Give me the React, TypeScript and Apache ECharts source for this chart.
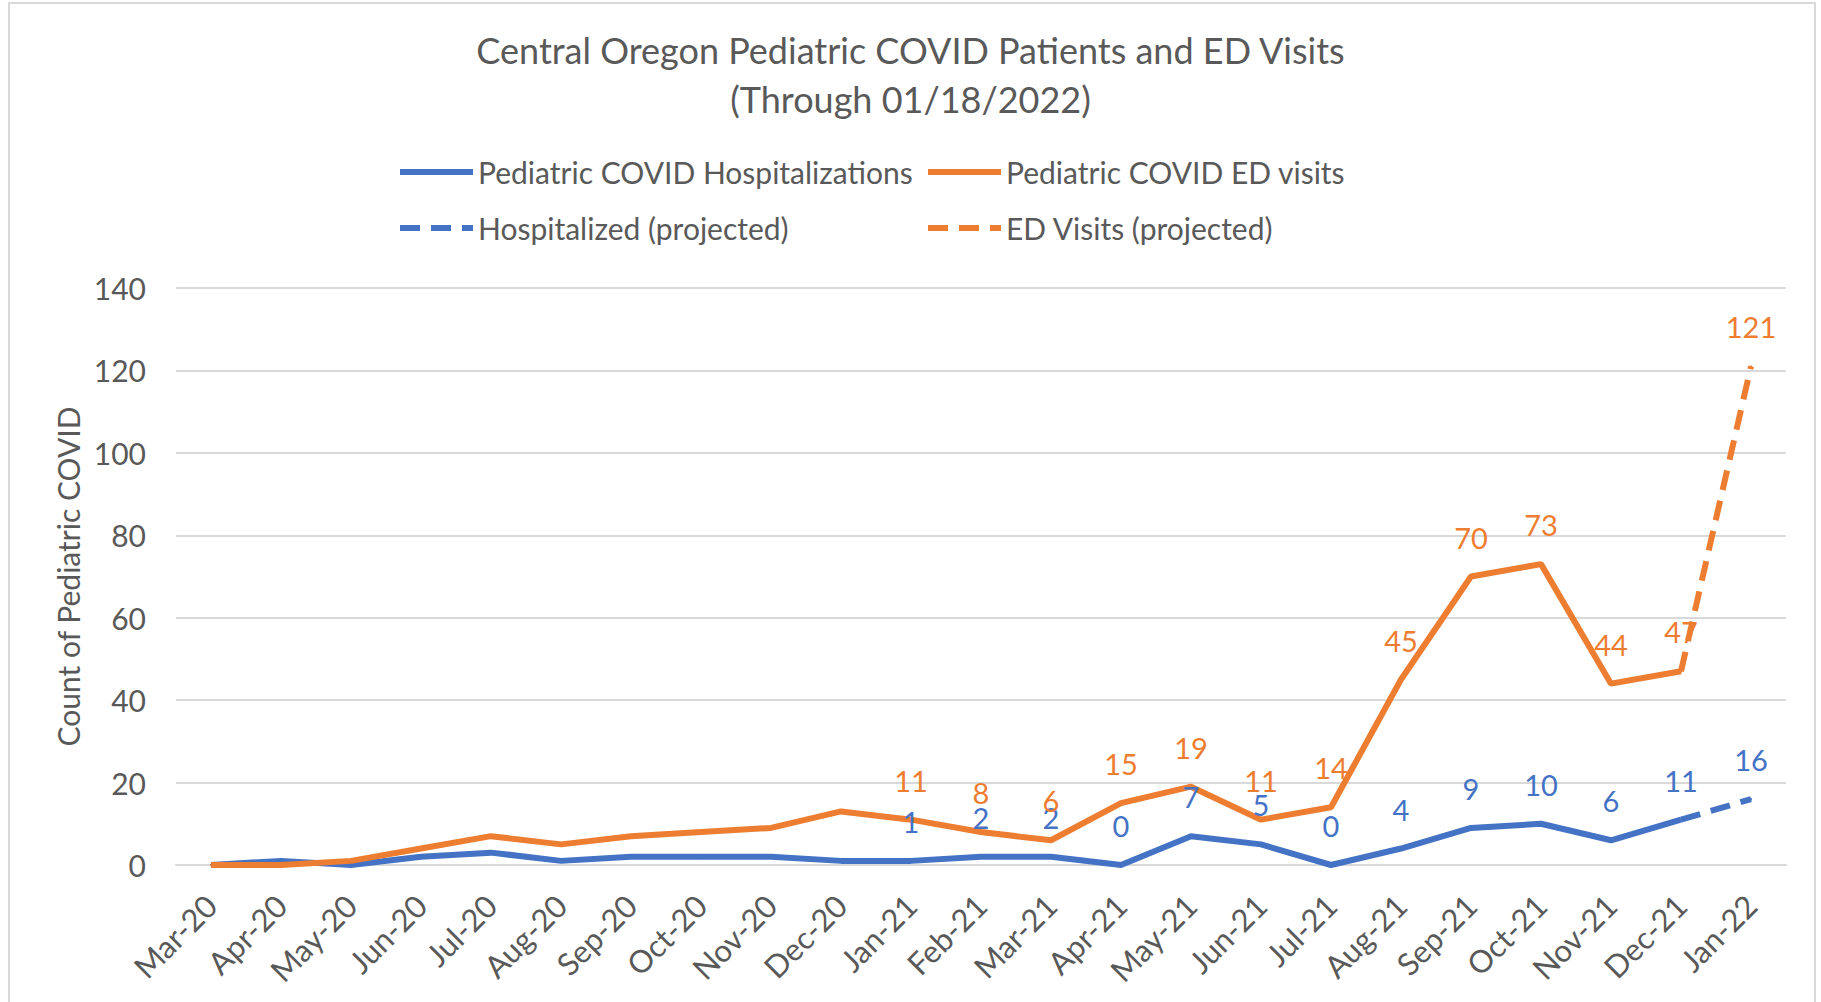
import React, { useEffect, useRef } from "react";
import * as echarts from "echarts";

const categories = [
  "Mar-20", "Apr-20", "May-20", "Jun-20", "Jul-20", "Aug-20", "Sep-20", "Oct-20",
  "Nov-20", "Dec-20", "Jan-21", "Feb-21", "Mar-21", "Apr-21", "May-21", "Jun-21",
  "Jul-21", "Aug-21", "Sep-21", "Oct-21", "Nov-21", "Dec-21", "Jan-22",
];
const hospitalizations = [0, 1, 0, 2, 3, 1, 2, 2, 2, 1, 1, 2, 2, 0, 7, 5, 0, 4, 9, 10, 6, 11, null];
const edVisits = [0, 0, 1, 4, 7, 5, 7, 8, 9, 13, 11, 8, 6, 15, 19, 11, 14, 45, 70, 73, 44, 47, null];
const hospProjected = [null, null, null, null, null, null, null, null, null, null, null, null, null, null, null, null, null, null, null, null, null, 11, 16];
const edProjected = [null, null, null, null, null, null, null, null, null, null, null, null, null, null, null, null, null, null, null, null, null, 47, 121];
const firstLabeledIndex = 10; // Jan-21
const projectedLabelIndex = 22; // Jan-22
const yTicks = [0, 20, 40, 60, 80, 100, 120, 140];

const BLUE = "#4472C4";
const ORANGE = "#ED7D31";
const GREY = "#595959";
const FONT = "Lato";

const SOLID_ICON = "path://M0,0L73,0L73,6L0,6Z";
const DASH_ICON = "path://M0,0L20,0L20,6L0,6Z M31,0L51,0L51,6L31,6Z M62,0L73,0L73,6L62,6Z";

function withLabels(values: (number | null)[], from: number, only?: number) {
  return values.map((v, i) => {
    const show = only !== undefined ? i === only : i >= from;
    return show && v !== null ? { value: v, label: { show: true } } : v;
  });
}

export default function App() {
  const ref = useRef<HTMLDivElement>(null);
  useEffect(() => {
    if (!ref.current) return;
    const chart = echarts.init(ref.current, null, { renderer: "svg" });
    const labelBase = (color: string) => ({
      show: false,
      position: "top" as const,
      distance: 24,
      color,
      fontFamily: FONT,
      fontSize: 29,
    });
    const legendCommon = {
      orient: "horizontal" as const,
      itemWidth: 73,
      itemHeight: 6,
      itemGap: 8,
      textStyle: { color: GREY, fontFamily: FONT, fontSize: 30, lineHeight: 32, padding: [0, 0, 0, 0] },
    };
    const lineSeries = (name: string, data: any[], color: string, dashed: boolean) => ({
      name,
      type: "line",
      data,
      symbol: "circle",
      symbolSize: 2,
      showSymbol: true,
      color,
      itemStyle: { color },
      lineStyle: { color, width: 6, type: dashed ? [20, 11] : "solid" },
      label: labelBase(color),
      emphasis: { disabled: true },
    });
    chart.setOption({
      animation: false,
      backgroundColor: "#ffffff",
      title: {
        text: "Central Oregon Pediatric COVID Patients and ED Visits\n(Through 01/18/2022)",
        left: "center",
        top: 20,
        textStyle: { color: GREY, fontFamily: FONT, fontSize: 36, fontWeight: "normal", lineHeight: 49 },
      },
      legend: [
        { ...legendCommon, data: [{ name: "Pediatric COVID Hospitalizations", icon: SOLID_ICON }], left: 395, top: 151 },
        { ...legendCommon, data: [{ name: "Pediatric COVID ED visits", icon: SOLID_ICON }], left: 923, top: 151 },
        { ...legendCommon, data: [{ name: "Hospitalized (projected)", icon: DASH_ICON }], left: 395, top: 207 },
        { ...legendCommon, data: [{ name: "ED Visits (projected)", icon: DASH_ICON }], left: 923, top: 207 },
      ],
      grid: { left: 176, right: 35, top: 288, bottom: 137, containLabel: false },
      xAxis: {
        type: "category",
        data: categories,
        boundaryGap: true,
        axisLine: { show: true, lineStyle: { color: "#d9d9d9", width: 2 } },
        axisTick: { show: false },
        axisLabel: { rotate: 45, margin: 35, color: GREY, fontFamily: FONT, fontSize: 31, interval: 0 },
      },
      yAxis: {
        type: "value",
        min: yTicks[0],
        max: yTicks[yTicks.length - 1],
        interval: 20,
        name: "Count of Pediatric COVID",
        nameLocation: "middle",
        nameRotate: 90,
        nameGap: 92,
        nameTextStyle: { color: GREY, fontFamily: FONT, fontSize: 30 },
        axisLine: { show: false },
        axisTick: { show: false },
        axisLabel: { margin: 30, color: GREY, fontFamily: FONT, fontSize: 30 },
        splitLine: { lineStyle: { color: "#d9d9d9", width: 2 } },
      },
      series: [
        lineSeries("Pediatric COVID Hospitalizations", withLabels(hospitalizations, firstLabeledIndex), BLUE, false),
        lineSeries("Pediatric COVID ED visits", withLabels(edVisits, firstLabeledIndex), ORANGE, false),
        lineSeries("Hospitalized (projected)", withLabels(hospProjected, 0, projectedLabelIndex), BLUE, true),
        lineSeries("ED Visits (projected)", withLabels(edProjected, 0, projectedLabelIndex), ORANGE, true),
      ],
      graphic: [
        {
          type: "rect",
          silent: true,
          shape: { x: 9, y: 3, width: 1806, height: 1020 },
          style: { fill: "none", stroke: "#d9d9d9", lineWidth: 2 },
        },
      ],
    });
    return () => chart.dispose();
  }, []);
  return (
    <div
      ref={ref}
      style={{ position: "fixed", left: 0, top: 0, width: 1821, height: 1002 }}
    />
  );
}
